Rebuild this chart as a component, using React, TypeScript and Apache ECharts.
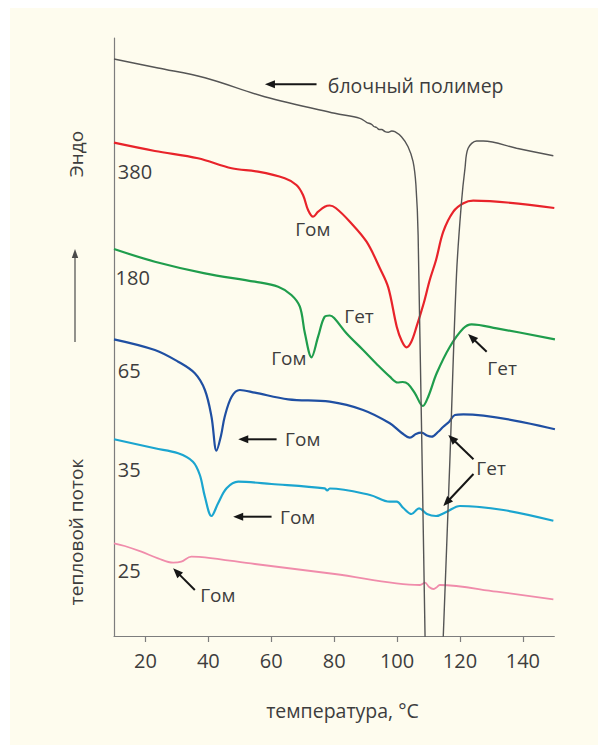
import React, { useEffect, useRef } from "react";
import * as echarts from "echarts";

// x-axis tick labels (°C)
const xTicks = [20, 40, 60, 80, 100, 120, 140];

// heat-flow traces [temperature °C, heat flow (arb. units)]
const blockPolymer = [
  [10, 577], [24, 568], [38.9, 558.3], [57.9, 539.3], [80.2, 522.7], [88.2, 517.7],
  [90.3, 513.7], [91.9, 511.7], [92.6, 509.5], [93.5, 508.5], [94.3, 506.5], [95.1, 506.5],
  [96.2, 504.3], [97.2, 503.7], [98.3, 505], [99.3, 504.3], [101.4, 499.3], [103.5, 489.3],
  [105.1, 474.3], [106, 451], [106.7, 401], [108.9, 0], [110.9, -320], [114.7, 0],
  [116.8, 176], [118.9, 361], [120.5, 434.3], [121.6, 467.7], [122.6, 487.7], [125.3, 495],
  [127.4, 495], [138, 487.7], [149.7, 480.3],
];
const s380 = [
  [10, 493.3], [23, 485], [36.7, 477.7], [47.4, 467.7], [55.8, 464.3], [64.3, 457.7],
  [68, 451], [70.1, 441], [71.7, 426], [73.3, 419.3], [74.9, 424.3], [77, 429.3],
  [78.6, 430.5], [80.5, 428], [85, 414.3], [90.3, 394.3], [94.5, 368], [97.2, 348.6],
  [99.9, 309.3], [101.5, 295], [103, 288.7], [104.5, 294], [106.2, 309.3], [108.5, 333],
  [110.4, 356], [112.4, 376], [114.7, 404.3], [117.9, 424.3], [121.1, 432.7], [124.2, 435.3],
  [150, 428],
];
const s180 = [
  [10, 387], [23, 374.3], [38.9, 362.7], [54.8, 354.3], [62.2, 349.3], [66.4, 341],
  [69.1, 329.3], [70.7, 302.7], [72.8, 278.7], [74.9, 299.3], [77, 319.3], [78.6, 320.5],
  [80, 318], [83.9, 302.7], [89.2, 286], [93.5, 272], [97.7, 259.3], [100.2, 253.5],
  [101.8, 254], [103.5, 252], [105.7, 242.7], [108.2, 230], [110, 240], [112.6, 262.7],
  [116.8, 289.3], [121.1, 307.7], [123.7, 311.7], [131.7, 307.7], [150.2, 296.7],
];
const s65 = [
  [10, 296.7], [23, 286], [30.4, 274.3], [35.7, 262.7], [38.9, 246], [41, 219.3],
  [42.6, 185.3], [44, 200], [45.2, 219.3], [47.4, 239.3], [50, 246], [54.8, 243.3],
  [65.4, 236.7], [78.6, 234.3], [89.2, 226], [97.7, 212.7], [101.5, 203], [104.1, 198.3],
  [106, 202], [107.8, 203.3], [109.5, 200.5], [111, 199.3], [113, 204], [114.7, 209.3],
  [116.5, 214], [118.4, 221], [121.1, 221.7], [150.2, 206.7],
];
const s35 = [
  [10, 196.7], [23, 187.7], [30.4, 182.7], [35.1, 174.3], [37.3, 161], [38.9, 139.3],
  [41, 120], [43.1, 132.7], [45.8, 147.7], [49.5, 154.3], [60.1, 152], [77, 147.7],
  [77.8, 145.5], [78.6, 147.5], [91.4, 141], [97.7, 134.3], [99.9, 134.3], [102, 128],
  [104.6, 122], [107, 127.7], [109.5, 122], [112.4, 120], [115.8, 124.3], [120, 130],
  [133.8, 126], [149.7, 115.3],
];
const s25 = [
  [10, 92.7], [13.4, 90], [18.7, 84.3], [24, 77.7], [28.8, 73.3], [31.4, 74.3],
  [34.6, 79.3], [38.9, 78.7], [54.8, 72], [80.2, 62], [107.3, 51], [108.9, 53.3],
  [110.2, 49], [111.5, 47], [112.5, 48.5], [113.6, 51], [131.7, 44.3], [149.7, 36.7],
];

// sample labels (left of each trace)
const sampleLabels = [
  { text: "380", at: [11.2, 465] },
  { text: "180", at: [10.5, 358.5] },
  { text: "65", at: [11.2, 266] },
  { text: "35", at: [11.2, 166.3] },
  { text: "25", at: [11.2, 66] },
];

// annotations (centre of text)
const notes = [
  { text: "Гом", at: [73.2, 407] },
  { text: "Гом", at: [65.6, 278] },
  { text: "Гет", at: [87.9, 320] },
  { text: "Гет", at: [133.4, 268] },
  { text: "Гом", at: [70.0, 197] },
  { text: "Гет", at: [129.9, 168] },
  { text: "Гом", at: [68.4, 119] },
  { text: "Гом", at: [43.0, 41] },
];
const polymerNote = { text: "блочный полимер", at: [78.0, 551] };

// arrows [from, to] (head at "to")
const arrows = [
  { from: [74.4, 551.7], to: [58.0, 551.7] },
  { from: [128.5, 284.3], to: [122.6, 302] },
  { from: [61.7, 196.7], to: [49.5, 196.7] },
  { from: [124.3, 176.7], to: [116.3, 201] },
  { from: [124.3, 162], to: [114.7, 130] },
  { from: [60.1, 119.3], to: [47.9, 119.3] },
  { from: [35.7, 46], to: [28.8, 67.7] },
];

const FONT = "'Open Sans', 'Noto Sans', sans-serif";
const TEXT = "#3d3d3d";

const traces = [
  { name: "380", data: s380, color: "#e8232a", width: 2.2 },
  { name: "180", data: s180, color: "#1f9d4c", width: 2.2 },
  { name: "65", data: s65, color: "#1f4fa2", width: 2.2 },
  { name: "35", data: s35, color: "#1ba5cf", width: 2.2 },
  { name: "25", data: s25, color: "#f08cab", width: 1.8 },
  { name: "блочный полимер", data: blockPolymer, color: "#555555", width: 1.4 },
];

export default function App() {
  const ref = useRef<HTMLDivElement>(null);
  useEffect(() => {
    if (!ref.current) return;
    const chart = echarts.init(ref.current, undefined, { renderer: "svg" });
    chart.setOption({
      animation: false,
      backgroundColor: "transparent",
      grid: { left: 114, right: 54.7, top: 38, bottom: 115, outerBoundsMode: "none" },
      xAxis: {
        type: "value",
        min: 10,
        max: 150,
        axisLine: { show: true, lineStyle: { color: "#7d7d7d", width: 1.2 } },
        axisTick: { show: true, customValues: xTicks, length: 6, lineStyle: { color: "#7d7d7d", width: 1.2 } },
        axisLabel: {
          customValues: xTicks,
          fontSize: 20,
          fontFamily: FONT,
          color: TEXT,
          margin: 14,
        },
        splitLine: { show: false },
      },
      yAxis: {
        type: "value",
        min: 0,
        max: 598,
        axisLine: { show: true, lineStyle: { color: "#7d7d7d", width: 1.2 } },
        axisTick: { show: false },
        axisLabel: { show: false },
        splitLine: { show: false },
      },
      series: traces.map((t) => ({
        type: "line",
        name: t.name,
        data: t.data,
        showSymbol: false,
        symbol: "none",
        smooth: 0.35,
        clip: true,
        lineStyle: { color: t.color, width: t.width },
        itemStyle: { color: t.color },
      })),
    });

    const px = (p: number[]) => chart.convertToPixel({ gridIndex: 0 }, p) as number[];
    const g: any[] = [];
    const txt = (text: string, x: number, y: number, size: number, align = "center", rotation = 0) => ({
      type: "text",
      x,
      y,
      rotation,
      style: { text, fontSize: size, fontFamily: FONT, fill: TEXT, align, verticalAlign: "middle" },
      z: 10,
    });
    sampleLabels.forEach((s) => {
      const [x, y] = px(s.at);
      g.push(txt(s.text, x, y, 20, "left"));
    });
    notes.forEach((n) => {
      const [x, y] = px(n.at);
      g.push(txt(n.text, x, y, 19));
    });
    {
      const [x, y] = px(polymerNote.at);
      g.push(txt(polymerNote.text, x, y, 19.5, "left"));
    }
    const arrowEls = (x1: number, y1: number, x2: number, y2: number, color: string, lw: number, hl: number, hw: number) => {
      const dx = x2 - x1, dy = y2 - y1;
      const L = Math.hypot(dx, dy);
      const ux = dx / L, uy = dy / L;
      const nx = -uy, ny = ux;
      const bx = x2 - ux * hl, by = y2 - uy * hl;
      return [
        { type: "line", shape: { x1, y1, x2: bx + ux * 1, y2: by + uy * 1 }, style: { stroke: color, lineWidth: lw }, z: 10 },
        {
          type: "polygon",
          shape: { points: [[x2, y2], [bx + nx * hw, by + ny * hw], [bx - nx * hw, by - ny * hw]] },
          style: { fill: color },
          z: 10,
        },
      ];
    };
    arrows.forEach((a) => {
      const [x1, y1] = px(a.from);
      const [x2, y2] = px(a.to);
      g.push(...arrowEls(x1, y1, x2, y2, "#161616", 2, 10, 4));
    });
    // axis names
    g.push(txt("температура, °C", 342.5, 710, 19.5));
    g.push(txt("Эндо", 75.5, 154, 19, "center", Math.PI / 2));
    g.push(txt("тепловой поток", 76, 532, 19, "center", Math.PI / 2));
    g.push(...arrowEls(75, 342, 75, 249, "#4a4a4a", 1.2, 9, 3.2));

    chart.setOption({ graphic: g });
    return () => chart.dispose();
  }, []);

  return (
    <div style={{ position: "fixed", left: 0, top: 0, width: 609, height: 751, background: "#ffffff" }}>
      <div style={{ position: "absolute", left: 10, top: 8, width: 588, height: 737, background: "#fefcee" }} />
      <div ref={ref} style={{ position: "absolute", left: 0, top: 0, width: 609, height: 751 }} />
    </div>
  );
}
